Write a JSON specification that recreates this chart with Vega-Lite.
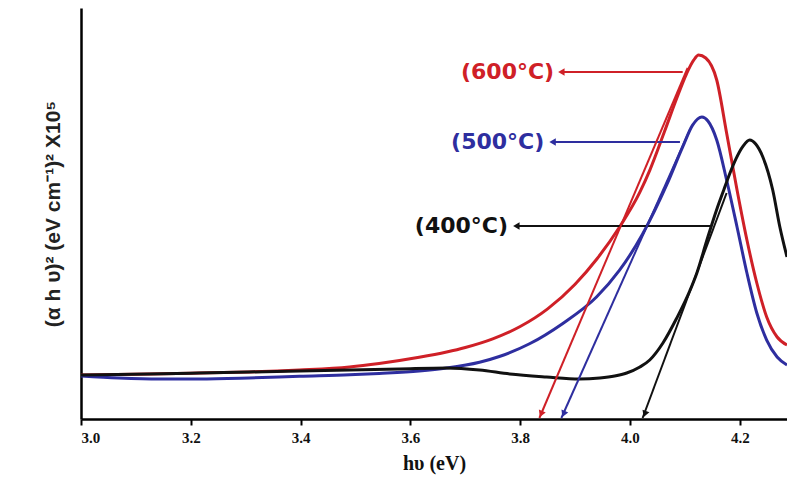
{
  "$schema": "https://vega.github.io/schema/vega-lite/v6.json",
  "width": 706,
  "height": 411,
  "autosize": {"type": "none"},
  "padding": {"left": 81, "top": 8, "right": 0, "bottom": 73},
  "background": "white",
  "config": {"view": {"stroke": null}},
  "datasets": {
    "curves": [
      {"series": "600", "x": 3.000, "y": 1.071},
      {"series": "600", "x": 3.124, "y": 1.095},
      {"series": "600", "x": 3.215, "y": 1.119},
      {"series": "600", "x": 3.306, "y": 1.144},
      {"series": "600", "x": 3.398, "y": 1.192},
      {"series": "600", "x": 3.489, "y": 1.265},
      {"series": "600", "x": 3.543, "y": 1.350},
      {"series": "600", "x": 3.616, "y": 1.500},
      {"series": "600", "x": 3.666, "y": 1.630},
      {"series": "600", "x": 3.700, "y": 1.740},
      {"series": "600", "x": 3.750, "y": 1.950},
      {"series": "600", "x": 3.800, "y": 2.250},
      {"series": "600", "x": 3.850, "y": 2.680},
      {"series": "600", "x": 3.900, "y": 3.280},
      {"series": "600", "x": 3.940, "y": 3.900},
      {"series": "600", "x": 3.981, "y": 4.670},
      {"series": "600", "x": 4.018, "y": 5.520},
      {"series": "600", "x": 4.036, "y": 6.050},
      {"series": "600", "x": 4.063, "y": 7.000},
      {"series": "600", "x": 4.085, "y": 7.800},
      {"series": "600", "x": 4.103, "y": 8.400},
      {"series": "600", "x": 4.116, "y": 8.730},
      {"series": "600", "x": 4.125, "y": 8.856},
      {"series": "600", "x": 4.138, "y": 8.783},
      {"series": "600", "x": 4.158, "y": 8.248},
      {"series": "600", "x": 4.176, "y": 6.959},
      {"series": "600", "x": 4.195, "y": 5.572},
      {"series": "600", "x": 4.213, "y": 4.355},
      {"series": "600", "x": 4.231, "y": 3.309},
      {"series": "600", "x": 4.249, "y": 2.482},
      {"series": "600", "x": 4.268, "y": 1.995},
      {"series": "600", "x": 4.286, "y": 1.800},
      {"series": "500", "x": 3.000, "y": 1.046},
      {"series": "500", "x": 3.069, "y": 0.998},
      {"series": "500", "x": 3.142, "y": 0.973},
      {"series": "500", "x": 3.215, "y": 0.973},
      {"series": "500", "x": 3.306, "y": 0.998},
      {"series": "500", "x": 3.398, "y": 1.040},
      {"series": "500", "x": 3.489, "y": 1.075},
      {"series": "500", "x": 3.543, "y": 1.110},
      {"series": "500", "x": 3.616, "y": 1.170},
      {"series": "500", "x": 3.666, "y": 1.241},
      {"series": "500", "x": 3.726, "y": 1.380},
      {"series": "500", "x": 3.762, "y": 1.520},
      {"series": "500", "x": 3.817, "y": 1.830},
      {"series": "500", "x": 3.877, "y": 2.320},
      {"series": "500", "x": 3.939, "y": 2.968},
      {"series": "500", "x": 3.981, "y": 3.620},
      {"series": "500", "x": 4.023, "y": 4.500},
      {"series": "500", "x": 4.067, "y": 5.700},
      {"series": "500", "x": 4.096, "y": 6.620},
      {"series": "500", "x": 4.114, "y": 7.150},
      {"series": "500", "x": 4.131, "y": 7.348},
      {"series": "500", "x": 4.142, "y": 7.250},
      {"series": "500", "x": 4.158, "y": 6.788},
      {"series": "500", "x": 4.176, "y": 5.815},
      {"series": "500", "x": 4.195, "y": 4.672},
      {"series": "500", "x": 4.213, "y": 3.552},
      {"series": "500", "x": 4.231, "y": 2.579},
      {"series": "500", "x": 4.249, "y": 1.922},
      {"series": "500", "x": 4.268, "y": 1.509},
      {"series": "500", "x": 4.286, "y": 1.314},
      {"series": "400", "x": 3.000, "y": 1.071},
      {"series": "400", "x": 3.124, "y": 1.095},
      {"series": "400", "x": 3.215, "y": 1.119},
      {"series": "400", "x": 3.306, "y": 1.144},
      {"series": "400", "x": 3.398, "y": 1.168},
      {"series": "400", "x": 3.489, "y": 1.192},
      {"series": "400", "x": 3.580, "y": 1.217},
      {"series": "400", "x": 3.666, "y": 1.241},
      {"series": "400", "x": 3.726, "y": 1.192},
      {"series": "400", "x": 3.781, "y": 1.095},
      {"series": "400", "x": 3.848, "y": 1.022},
      {"series": "400", "x": 3.908, "y": 0.973},
      {"series": "400", "x": 3.945, "y": 0.998},
      {"series": "400", "x": 3.972, "y": 1.046},
      {"series": "400", "x": 3.994, "y": 1.119},
      {"series": "400", "x": 4.018, "y": 1.265},
      {"series": "400", "x": 4.036, "y": 1.436},
      {"series": "400", "x": 4.060, "y": 1.849},
      {"series": "400", "x": 4.085, "y": 2.450},
      {"series": "400", "x": 4.109, "y": 3.120},
      {"series": "400", "x": 4.122, "y": 3.560},
      {"series": "400", "x": 4.140, "y": 4.350},
      {"series": "400", "x": 4.158, "y": 5.100},
      {"series": "400", "x": 4.171, "y": 5.580},
      {"series": "400", "x": 4.182, "y": 5.980},
      {"series": "400", "x": 4.193, "y": 6.330},
      {"series": "400", "x": 4.206, "y": 6.640},
      {"series": "400", "x": 4.218, "y": 6.788},
      {"series": "400", "x": 4.229, "y": 6.690},
      {"series": "400", "x": 4.242, "y": 6.375},
      {"series": "400", "x": 4.260, "y": 5.572},
      {"series": "400", "x": 4.273, "y": 4.672},
      {"series": "400", "x": 4.286, "y": 3.942}
    ],
    "arrows": [
      {"series": "600", "x": 4.096, "y": 8.443, "x2": 3.875, "y2": 8.443},
      {"series": "500", "x": 4.091, "y": 6.740, "x2": 3.859, "y2": 6.740},
      {"series": "400", "x": 4.149, "y": 4.696, "x2": 3.793, "y2": 4.696},
      {"series": "600", "x": 4.105, "y": 8.540, "x2": 3.835, "y2": 0.024},
      {"series": "500", "x": 4.109, "y": 7.032, "x2": 3.875, "y2": 0.024},
      {"series": "400", "x": 4.176, "y": 5.499, "x2": 4.023, "y2": 0.024}
    ],
    "heads": [
      {"series": "600", "x": 3.875, "y": 8.443, "angle": 270},
      {"series": "500", "x": 3.859, "y": 6.740, "angle": 270},
      {"series": "400", "x": 3.793, "y": 4.696, "angle": 270},
      {"series": "600", "x": 3.838, "y": 0.122, "angle": 203},
      {"series": "500", "x": 3.879, "y": 0.122, "angle": 204},
      {"series": "400", "x": 4.027, "y": 0.122, "angle": 201}
    ],
    "labels": [
      {"series": "600", "x": 3.777, "y": 8.443, "text": "(600°C)"},
      {"series": "500", "x": 3.759, "y": 6.740, "text": "(500°C)"},
      {"series": "400", "x": 3.693, "y": 4.696, "text": "(400°C)"}
    ]
  },
  "layer": [
    {
      "data": {"name": "curves"},
      "mark": {"type": "line", "strokeWidth": 3, "interpolate": "monotone", "clip": true},
      "encoding": {
        "x": {
          "field": "x", "type": "quantitative",
          "scale": {"domain": [3.0, 4.286], "nice": false, "zero": false},
          "axis": {
            "values": [3.0, 3.2, 3.4, 3.6, 3.8, 4.0, 4.2],
            "format": ".1f",
            "grid": false,
            "domainColor": "black", "domainWidth": 2.5,
            "tickColor": "black", "tickWidth": 2, "tickSize": 6,
            "labelFont": "Liberation Serif", "labelFontWeight": "bold", "labelFontSize": 15,
            "labelColor": "#111", "labelPadding": 5,
            "title": "hυ (eV)",
            "titleFont": "Liberation Serif", "titleFontWeight": "bold", "titleFontSize": 20,
            "titleColor": "#111", "titlePadding": 8
          }
        },
        "y": {
          "field": "y", "type": "quantitative",
          "scale": {"domain": [0, 10], "nice": false},
          "axis": {
            "grid": false, "ticks": false, "labels": false,
            "domainColor": "black", "domainWidth": 2.5,
            "title": "(α h υ)² (eV cm⁻¹)² X10⁵",
            "titleFont": "Liberation Sans", "titleFontWeight": "bold", "titleFontSize": 21,
            "titleColor": "#222", "titlePadding": 18
          }
        },
        "color": {
          "field": "series", "type": "nominal",
          "scale": {"domain": ["600", "500", "400"], "range": ["#cf2027", "#2e2e9f", "#111111"]},
          "legend": null
        },
        "detail": {"field": "series"}
      }
    },
    {
      "data": {"name": "arrows"},
      "mark": {"type": "rule", "strokeWidth": 2},
      "encoding": {
        "x": {"field": "x", "type": "quantitative"},
        "y": {"field": "y", "type": "quantitative"},
        "x2": {"field": "x2"},
        "y2": {"field": "y2"},
        "color": {"field": "series", "type": "nominal"}
      }
    },
    {
      "data": {"name": "heads"},
      "mark": {"type": "point", "shape": "triangle-up", "filled": true, "opacity": 1, "size": 55},
      "encoding": {
        "x": {"field": "x", "type": "quantitative"},
        "y": {"field": "y", "type": "quantitative"},
        "angle": {"field": "angle", "type": "quantitative", "scale": null},
        "color": {"field": "series", "type": "nominal"}
      }
    },
    {
      "data": {"name": "labels"},
      "mark": {"type": "text", "font": "DejaVu Sans", "fontWeight": "bold", "fontSize": 22, "align": "center", "baseline": "middle"},
      "encoding": {
        "x": {"field": "x", "type": "quantitative"},
        "y": {"field": "y", "type": "quantitative"},
        "text": {"field": "text"},
        "color": {"field": "series", "type": "nominal"}
      }
    },
    {
      "mark": {"type": "rule", "color": "black", "strokeWidth": 2},
      "encoding": {"y": {"datum": 10}}
    }
  ]
}
